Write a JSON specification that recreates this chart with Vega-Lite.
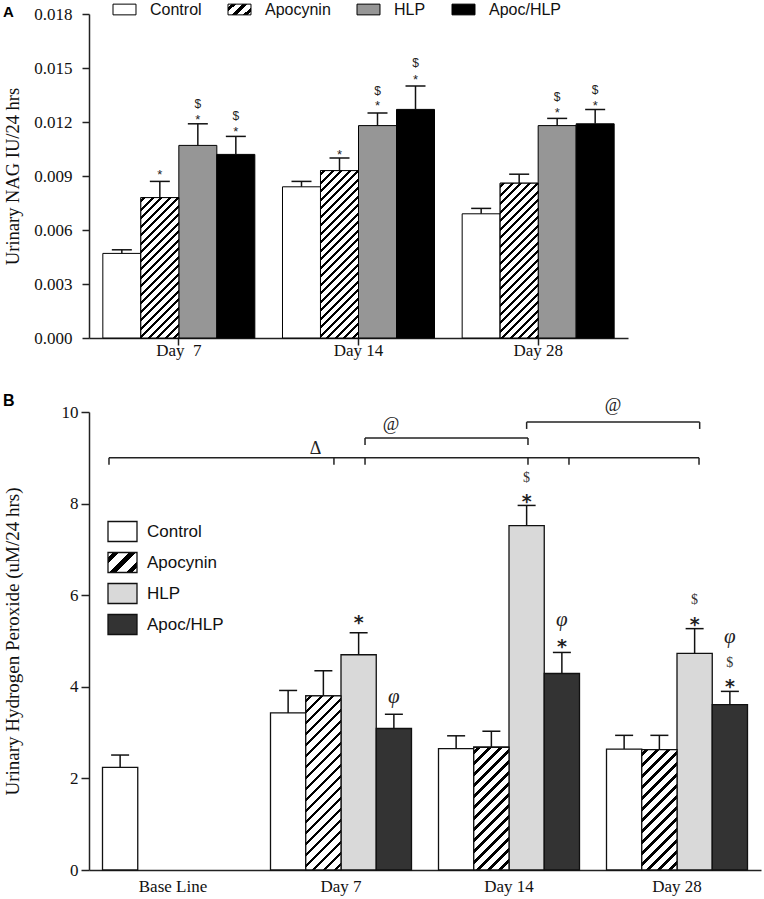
{
"$schema":"https://vega.github.io/schema/vega-lite/v6.json",
"background":"white",
"padding":{"left":3,"top":1,"right":2,"bottom":2},
"spacing":35,
"resolve":{"scale":{"fill":"independent","y":"independent","x":"independent","xOffset":"independent"},"legend":{"fill":"independent"}},
"config":{
 "view":{"stroke":null},
 "axis":{"domainColor":"#222","tickColor":"#222","labelColor":"#111","titleColor":"#111","labelFont":"Liberation Serif","titleFont":"Liberation Serif","titleFontWeight":"normal","domainWidth":1.5,"tickWidth":1.5,"grid":false,"labelFontSize":17},
 "legend":{"labelFont":"Liberation Sans","labelColor":"#111"}
},
"datasets":{
 "nag":[
  {"day":"Day 7","trt":"Control","value":0.0047,"upper":0.0049},
  {"day":"Day 7","trt":"Apocynin","value":0.0078,"upper":0.0087},
  {"day":"Day 7","trt":"HLP","value":0.0107,"upper":0.0119},
  {"day":"Day 7","trt":"Apoc/HLP","value":0.0102,"upper":0.0112},
  {"day":"Day 14","trt":"Control","value":0.0084,"upper":0.0087},
  {"day":"Day 14","trt":"Apocynin","value":0.0093,"upper":0.0100},
  {"day":"Day 14","trt":"HLP","value":0.0118,"upper":0.0125},
  {"day":"Day 14","trt":"Apoc/HLP","value":0.0127,"upper":0.0140},
  {"day":"Day 28","trt":"Control","value":0.0069,"upper":0.0072},
  {"day":"Day 28","trt":"Apocynin","value":0.0086,"upper":0.0091},
  {"day":"Day 28","trt":"HLP","value":0.0118,"upper":0.0122},
  {"day":"Day 28","trt":"Apoc/HLP","value":0.0119,"upper":0.0127}
 ],
 "nagAnn":[
  {"day":"Day 7","trt":"Apocynin","sym":"*","y":0.00926},
  {"day":"Day 7","trt":"HLP","sym":"*","y":0.01232},
  {"day":"Day 7","trt":"HLP","sym":"$","y":0.01298},
  {"day":"Day 7","trt":"Apoc/HLP","sym":"*","y":0.01165},
  {"day":"Day 7","trt":"Apoc/HLP","sym":"$","y":0.01232},
  {"day":"Day 14","trt":"Apocynin","sym":"*","y":0.01037},
  {"day":"Day 14","trt":"HLP","sym":"*","y":0.01309},
  {"day":"Day 14","trt":"HLP","sym":"$","y":0.01371},
  {"day":"Day 14","trt":"Apoc/HLP","sym":"*","y":0.01454},
  {"day":"Day 14","trt":"Apoc/HLP","sym":"$","y":0.01526},
  {"day":"Day 28","trt":"HLP","sym":"*","y":0.01271},
  {"day":"Day 28","trt":"HLP","sym":"$","y":0.01337},
  {"day":"Day 28","trt":"Apoc/HLP","sym":"*","y":0.01309},
  {"day":"Day 28","trt":"Apoc/HLP","sym":"$","y":0.01376}
 ],
 "h2o2":[
  {"day":"Base Line","trt":"Control","value":2.24,"upper":2.51},
  {"day":"Day 7","trt":"Control","value":3.43,"upper":3.92},
  {"day":"Day 7","trt":"Apocynin","value":3.80,"upper":4.35},
  {"day":"Day 7","trt":"HLP","value":4.70,"upper":5.18},
  {"day":"Day 7","trt":"Apoc/HLP","value":3.09,"upper":3.40},
  {"day":"Day 14","trt":"Control","value":2.65,"upper":2.93},
  {"day":"Day 14","trt":"Apocynin","value":2.68,"upper":3.03},
  {"day":"Day 14","trt":"HLP","value":7.52,"upper":7.96},
  {"day":"Day 14","trt":"Apoc/HLP","value":4.29,"upper":4.75},
  {"day":"Day 28","trt":"Control","value":2.64,"upper":2.94},
  {"day":"Day 28","trt":"Apocynin","value":2.63,"upper":2.94},
  {"day":"Day 28","trt":"HLP","value":4.73,"upper":5.27},
  {"day":"Day 28","trt":"Apoc/HLP","value":3.61,"upper":3.90}
 ],
 "h2o2Ann":[
  {"day":"Day 7","trt":"HLP","sym":"*","y":5.53},
  {"day":"Day 7","trt":"Apoc/HLP","sym":"φ","y":3.75},
  {"day":"Day 14","trt":"HLP","sym":"*","y":8.17},
  {"day":"Day 14","trt":"HLP","sym":"$","y":8.55},
  {"day":"Day 14","trt":"Apoc/HLP","sym":"*","y":5.01},
  {"day":"Day 14","trt":"Apoc/HLP","sym":"φ","y":5.43},
  {"day":"Day 28","trt":"HLP","sym":"*","y":5.49},
  {"day":"Day 28","trt":"HLP","sym":"$","y":5.89},
  {"day":"Day 28","trt":"Apoc/HLP","sym":"*","y":4.12},
  {"day":"Day 28","trt":"Apoc/HLP","sym":"$","y":4.53},
  {"day":"Day 28","trt":"Apoc/HLP","sym":"φ","y":5.06}
 ],
 "brackets":[
  {"x":0.119,"x2":3.631,"y":9.0,"y2":9.0},
  {"x":1.643,"x2":2.613,"y":9.43,"y2":9.43},
  {"x":2.605,"x2":3.635,"y":9.78,"y2":9.78},
  {"x":0.119,"x2":0.119,"y":9.0,"y2":8.85},
  {"x":1.458,"x2":1.458,"y":9.0,"y2":8.85},
  {"x":1.643,"x2":1.643,"y":9.0,"y2":8.85},
  {"x":2.613,"x2":2.613,"y":9.0,"y2":8.85},
  {"x":2.857,"x2":2.857,"y":9.0,"y2":8.85},
  {"x":3.631,"x2":3.631,"y":9.0,"y2":8.85},
  {"x":1.643,"x2":1.643,"y":9.43,"y2":9.28},
  {"x":2.613,"x2":2.613,"y":9.43,"y2":9.28},
  {"x":2.605,"x2":2.605,"y":9.78,"y2":9.63},
  {"x":3.635,"x2":3.635,"y":9.78,"y2":9.63}
 ],
 "bracketLabels":[
  {"x":1.349,"y":9.2,"label":"Δ"},
  {"x":1.798,"y":9.72,"label":"@"},
  {"x":3.119,"y":10.13,"label":"@"}
 ]
},
"vconcat":[
 {
  "title":{"text":"A","anchor":"start","frame":"bounds","offset":-19,"font":"Liberation Sans","fontSize":15,"fontWeight":"bold","color":"#000"},
  "width":539,"height":324,
  "layer":[
   {"data":{"name":"nag"},
    "mark":{"type":"bar","stroke":"#000","strokeWidth":1},
    "encoding":{
     "x":{"field":"day","type":"nominal","scale":{"domain":["Day 7","Day 14","Day 28"],"paddingInner":0,"paddingOuter":0},"axis":{"title":null,"labelAngle":0,"tickSize":7,"labelPadding":-3,"labelExpr":"datum.label == 'Day 7' ? 'Day\u00a0\u00a07' : datum.label"}},
     "xOffset":{"field":"trt","type":"nominal","scale":{"domain":["Control","Apocynin","HLP","Apoc/HLP"],"paddingInner":0,"paddingOuter":0.364}},
     "y":{"field":"value","type":"quantitative","scale":{"domain":[0,0.018],"nice":false},"axis":{"title":"Urinary NAG IU/24 hrs","values":[0,0.003,0.006,0.009,0.012,0.015,0.018],"format":".3f","tickSize":7,"labelPadding":10,"titleFontSize":18.5,"titleX":-77,"titleY":162,"titleBaseline":"middle","titleAlign":"center"}},
     "fill":{"field":"trt","type":"nominal","scale":{"domain":["Control","Apocynin","HLP","Apoc/HLP"],"range":["#ffffff",{"expr":"{gradient:'linear',x1:0,y1:0,x2:1.2031,y2:0.5754,stops:[{offset:0,color:'#fff'},{offset:0.1,color:'#fff'},{offset:0.1,color:'#000'},{offset:0.2333,color:'#000'},{offset:0.2333,color:'#fff'},{offset:0.4333,color:'#fff'},{offset:0.4333,color:'#000'},{offset:0.5667,color:'#000'},{offset:0.5667,color:'#fff'},{offset:0.7667,color:'#fff'},{offset:0.7667,color:'#000'},{offset:0.9,color:'#000'},{offset:0.9,color:'#fff'},{offset:1,color:'#fff'}]}"},"#969696","#000000"]},
      "legend":{"orient":"none","legendX":27,"legendY":-13,"direction":"horizontal","columns":4,"title":null,"symbolType":"M-1.5,-0.7H1.5V0.7H-1.5Z","symbolSize":235,"symbolStrokeColor":"#000","symbolStrokeWidth":1,"symbolOpacity":1,"labelFontSize":16,"labelOffset":17,"columnPadding":24,"padding":0,"gridAlign":"none"}}
    }},
   {"data":{"name":"nag"},"transform":[{"filter":"datum.day == 'Day 7' && datum.trt == 'Apocynin'"}],
    "mark":{"type":"bar","stroke":"#000","strokeWidth":1,"fill":{"gradient":"linear","x1":0,"y1":0,"x2":0.3206,"y2":1.1846,"stops":[{"offset":0,"color":"#fff"},
{"offset":0.0143,"color":"#fff"},{"offset":0.0143,"color":"#000"},{"offset":0.031,"color":"#000"},{"offset":0.031,"color":"#fff"},
{"offset":0.0619,"color":"#fff"},{"offset":0.0619,"color":"#000"},{"offset":0.0786,"color":"#000"},{"offset":0.0786,"color":"#fff"},
{"offset":0.1095,"color":"#fff"},{"offset":0.1095,"color":"#000"},{"offset":0.1262,"color":"#000"},{"offset":0.1262,"color":"#fff"},
{"offset":0.1571,"color":"#fff"},{"offset":0.1571,"color":"#000"},{"offset":0.1738,"color":"#000"},{"offset":0.1738,"color":"#fff"},
{"offset":0.2048,"color":"#fff"},{"offset":0.2048,"color":"#000"},{"offset":0.2214,"color":"#000"},{"offset":0.2214,"color":"#fff"},
{"offset":0.2524,"color":"#fff"},{"offset":0.2524,"color":"#000"},{"offset":0.269,"color":"#000"},{"offset":0.269,"color":"#fff"},
{"offset":0.3,"color":"#fff"},{"offset":0.3,"color":"#000"},{"offset":0.3167,"color":"#000"},{"offset":0.3167,"color":"#fff"},
{"offset":0.3476,"color":"#fff"},{"offset":0.3476,"color":"#000"},{"offset":0.3643,"color":"#000"},{"offset":0.3643,"color":"#fff"},
{"offset":0.3952,"color":"#fff"},{"offset":0.3952,"color":"#000"},{"offset":0.4119,"color":"#000"},{"offset":0.4119,"color":"#fff"},
{"offset":0.4429,"color":"#fff"},{"offset":0.4429,"color":"#000"},{"offset":0.4595,"color":"#000"},{"offset":0.4595,"color":"#fff"},
{"offset":0.4905,"color":"#fff"},{"offset":0.4905,"color":"#000"},{"offset":0.5071,"color":"#000"},{"offset":0.5071,"color":"#fff"},
{"offset":0.5381,"color":"#fff"},{"offset":0.5381,"color":"#000"},{"offset":0.5548,"color":"#000"},{"offset":0.5548,"color":"#fff"},
{"offset":0.5857,"color":"#fff"},{"offset":0.5857,"color":"#000"},{"offset":0.6024,"color":"#000"},{"offset":0.6024,"color":"#fff"},
{"offset":0.6333,"color":"#fff"},{"offset":0.6333,"color":"#000"},{"offset":0.65,"color":"#000"},{"offset":0.65,"color":"#fff"},
{"offset":0.681,"color":"#fff"},{"offset":0.681,"color":"#000"},{"offset":0.6976,"color":"#000"},{"offset":0.6976,"color":"#fff"},
{"offset":0.7286,"color":"#fff"},{"offset":0.7286,"color":"#000"},{"offset":0.7452,"color":"#000"},{"offset":0.7452,"color":"#fff"},
{"offset":0.7762,"color":"#fff"},{"offset":0.7762,"color":"#000"},{"offset":0.7929,"color":"#000"},{"offset":0.7929,"color":"#fff"},
{"offset":0.8238,"color":"#fff"},{"offset":0.8238,"color":"#000"},{"offset":0.8405,"color":"#000"},{"offset":0.8405,"color":"#fff"},
{"offset":0.8714,"color":"#fff"},{"offset":0.8714,"color":"#000"},{"offset":0.8881,"color":"#000"},{"offset":0.8881,"color":"#fff"},
{"offset":0.919,"color":"#fff"},{"offset":0.919,"color":"#000"},{"offset":0.9357,"color":"#000"},{"offset":0.9357,"color":"#fff"},
{"offset":0.9667,"color":"#fff"},{"offset":0.9667,"color":"#000"},{"offset":0.9833,"color":"#000"},{"offset":0.9833,"color":"#fff"},
{"offset":1,"color":"#fff"}]}},
    "encoding":{"x":{"field":"day","type":"nominal"},"xOffset":{"field":"trt","type":"nominal"},"y":{"field":"value","type":"quantitative"}}},
   {"data":{"name":"nag"},"transform":[{"filter":"datum.day == 'Day 14' && datum.trt == 'Apocynin'"}],
    "mark":{"type":"bar","stroke":"#000","strokeWidth":1,"fill":{"gradient":"linear","x1":0,"y1":0,"x2":0.274,"y2":1.2072,"stops":[{"offset":0,"color":"#fff"},
{"offset":0.012,"color":"#fff"},{"offset":0.012,"color":"#000"},{"offset":0.026,"color":"#000"},{"offset":0.026,"color":"#fff"},
{"offset":0.052,"color":"#fff"},{"offset":0.052,"color":"#000"},{"offset":0.066,"color":"#000"},{"offset":0.066,"color":"#fff"},
{"offset":0.092,"color":"#fff"},{"offset":0.092,"color":"#000"},{"offset":0.106,"color":"#000"},{"offset":0.106,"color":"#fff"},
{"offset":0.132,"color":"#fff"},{"offset":0.132,"color":"#000"},{"offset":0.146,"color":"#000"},{"offset":0.146,"color":"#fff"},
{"offset":0.172,"color":"#fff"},{"offset":0.172,"color":"#000"},{"offset":0.186,"color":"#000"},{"offset":0.186,"color":"#fff"},
{"offset":0.212,"color":"#fff"},{"offset":0.212,"color":"#000"},{"offset":0.226,"color":"#000"},{"offset":0.226,"color":"#fff"},
{"offset":0.252,"color":"#fff"},{"offset":0.252,"color":"#000"},{"offset":0.266,"color":"#000"},{"offset":0.266,"color":"#fff"},
{"offset":0.292,"color":"#fff"},{"offset":0.292,"color":"#000"},{"offset":0.306,"color":"#000"},{"offset":0.306,"color":"#fff"},
{"offset":0.332,"color":"#fff"},{"offset":0.332,"color":"#000"},{"offset":0.346,"color":"#000"},{"offset":0.346,"color":"#fff"},
{"offset":0.372,"color":"#fff"},{"offset":0.372,"color":"#000"},{"offset":0.386,"color":"#000"},{"offset":0.386,"color":"#fff"},
{"offset":0.412,"color":"#fff"},{"offset":0.412,"color":"#000"},{"offset":0.426,"color":"#000"},{"offset":0.426,"color":"#fff"},
{"offset":0.452,"color":"#fff"},{"offset":0.452,"color":"#000"},{"offset":0.466,"color":"#000"},{"offset":0.466,"color":"#fff"},
{"offset":0.492,"color":"#fff"},{"offset":0.492,"color":"#000"},{"offset":0.506,"color":"#000"},{"offset":0.506,"color":"#fff"},
{"offset":0.532,"color":"#fff"},{"offset":0.532,"color":"#000"},{"offset":0.546,"color":"#000"},{"offset":0.546,"color":"#fff"},
{"offset":0.572,"color":"#fff"},{"offset":0.572,"color":"#000"},{"offset":0.586,"color":"#000"},{"offset":0.586,"color":"#fff"},
{"offset":0.612,"color":"#fff"},{"offset":0.612,"color":"#000"},{"offset":0.626,"color":"#000"},{"offset":0.626,"color":"#fff"},
{"offset":0.652,"color":"#fff"},{"offset":0.652,"color":"#000"},{"offset":0.666,"color":"#000"},{"offset":0.666,"color":"#fff"},
{"offset":0.692,"color":"#fff"},{"offset":0.692,"color":"#000"},{"offset":0.706,"color":"#000"},{"offset":0.706,"color":"#fff"},
{"offset":0.732,"color":"#fff"},{"offset":0.732,"color":"#000"},{"offset":0.746,"color":"#000"},{"offset":0.746,"color":"#fff"},
{"offset":0.772,"color":"#fff"},{"offset":0.772,"color":"#000"},{"offset":0.786,"color":"#000"},{"offset":0.786,"color":"#fff"},
{"offset":0.812,"color":"#fff"},{"offset":0.812,"color":"#000"},{"offset":0.826,"color":"#000"},{"offset":0.826,"color":"#fff"},
{"offset":0.852,"color":"#fff"},{"offset":0.852,"color":"#000"},{"offset":0.866,"color":"#000"},{"offset":0.866,"color":"#fff"},
{"offset":0.892,"color":"#fff"},{"offset":0.892,"color":"#000"},{"offset":0.906,"color":"#000"},{"offset":0.906,"color":"#fff"},
{"offset":0.932,"color":"#fff"},{"offset":0.932,"color":"#000"},{"offset":0.946,"color":"#000"},{"offset":0.946,"color":"#fff"},
{"offset":0.972,"color":"#fff"},{"offset":0.972,"color":"#000"},{"offset":0.986,"color":"#000"},{"offset":0.986,"color":"#fff"},
{"offset":1,"color":"#fff"}]}},
    "encoding":{"x":{"field":"day","type":"nominal"},"xOffset":{"field":"trt","type":"nominal"},"y":{"field":"value","type":"quantitative"}}},
   {"data":{"name":"nag"},"transform":[{"filter":"datum.day == 'Day 28' && datum.trt == 'Apocynin'"}],
    "mark":{"type":"bar","stroke":"#000","strokeWidth":1,"fill":{"gradient":"linear","x1":0,"y1":0,"x2":0.2924,"y2":1.1911,"stops":[{"offset":0,"color":"#fff"},
{"offset":0.013,"color":"#fff"},{"offset":0.013,"color":"#000"},{"offset":0.0283,"color":"#000"},{"offset":0.0283,"color":"#fff"},
{"offset":0.0565,"color":"#fff"},{"offset":0.0565,"color":"#000"},{"offset":0.0717,"color":"#000"},{"offset":0.0717,"color":"#fff"},
{"offset":0.1,"color":"#fff"},{"offset":0.1,"color":"#000"},{"offset":0.1152,"color":"#000"},{"offset":0.1152,"color":"#fff"},
{"offset":0.1435,"color":"#fff"},{"offset":0.1435,"color":"#000"},{"offset":0.1587,"color":"#000"},{"offset":0.1587,"color":"#fff"},
{"offset":0.187,"color":"#fff"},{"offset":0.187,"color":"#000"},{"offset":0.2022,"color":"#000"},{"offset":0.2022,"color":"#fff"},
{"offset":0.2304,"color":"#fff"},{"offset":0.2304,"color":"#000"},{"offset":0.2457,"color":"#000"},{"offset":0.2457,"color":"#fff"},
{"offset":0.2739,"color":"#fff"},{"offset":0.2739,"color":"#000"},{"offset":0.2891,"color":"#000"},{"offset":0.2891,"color":"#fff"},
{"offset":0.3174,"color":"#fff"},{"offset":0.3174,"color":"#000"},{"offset":0.3326,"color":"#000"},{"offset":0.3326,"color":"#fff"},
{"offset":0.3609,"color":"#fff"},{"offset":0.3609,"color":"#000"},{"offset":0.3761,"color":"#000"},{"offset":0.3761,"color":"#fff"},
{"offset":0.4043,"color":"#fff"},{"offset":0.4043,"color":"#000"},{"offset":0.4196,"color":"#000"},{"offset":0.4196,"color":"#fff"},
{"offset":0.4478,"color":"#fff"},{"offset":0.4478,"color":"#000"},{"offset":0.463,"color":"#000"},{"offset":0.463,"color":"#fff"},
{"offset":0.4913,"color":"#fff"},{"offset":0.4913,"color":"#000"},{"offset":0.5065,"color":"#000"},{"offset":0.5065,"color":"#fff"},
{"offset":0.5348,"color":"#fff"},{"offset":0.5348,"color":"#000"},{"offset":0.55,"color":"#000"},{"offset":0.55,"color":"#fff"},
{"offset":0.5783,"color":"#fff"},{"offset":0.5783,"color":"#000"},{"offset":0.5935,"color":"#000"},{"offset":0.5935,"color":"#fff"},
{"offset":0.6217,"color":"#fff"},{"offset":0.6217,"color":"#000"},{"offset":0.637,"color":"#000"},{"offset":0.637,"color":"#fff"},
{"offset":0.6652,"color":"#fff"},{"offset":0.6652,"color":"#000"},{"offset":0.6804,"color":"#000"},{"offset":0.6804,"color":"#fff"},
{"offset":0.7087,"color":"#fff"},{"offset":0.7087,"color":"#000"},{"offset":0.7239,"color":"#000"},{"offset":0.7239,"color":"#fff"},
{"offset":0.7522,"color":"#fff"},{"offset":0.7522,"color":"#000"},{"offset":0.7674,"color":"#000"},{"offset":0.7674,"color":"#fff"},
{"offset":0.7957,"color":"#fff"},{"offset":0.7957,"color":"#000"},{"offset":0.8109,"color":"#000"},{"offset":0.8109,"color":"#fff"},
{"offset":0.8391,"color":"#fff"},{"offset":0.8391,"color":"#000"},{"offset":0.8543,"color":"#000"},{"offset":0.8543,"color":"#fff"},
{"offset":0.8826,"color":"#fff"},{"offset":0.8826,"color":"#000"},{"offset":0.8978,"color":"#000"},{"offset":0.8978,"color":"#fff"},
{"offset":0.9261,"color":"#fff"},{"offset":0.9261,"color":"#000"},{"offset":0.9413,"color":"#000"},{"offset":0.9413,"color":"#fff"},
{"offset":0.9696,"color":"#fff"},{"offset":0.9696,"color":"#000"},{"offset":0.9848,"color":"#000"},{"offset":0.9848,"color":"#fff"},
{"offset":1,"color":"#fff"}]}},
    "encoding":{"x":{"field":"day","type":"nominal"},"xOffset":{"field":"trt","type":"nominal"},"y":{"field":"value","type":"quantitative"}}},
   {"data":{"name":"nag"},"mark":{"type":"rule","strokeWidth":1.5,"color":"#111"},
    "encoding":{"x":{"field":"day","type":"nominal"},"xOffset":{"field":"trt","type":"nominal"},"y":{"field":"value","type":"quantitative"},"y2":{"field":"upper"}}},
   {"data":{"name":"nag"},"mark":{"type":"tick","thickness":1.5,"size":20,"color":"#111","opacity":1},
    "encoding":{"x":{"field":"day","type":"nominal"},"xOffset":{"field":"trt","type":"nominal"},"y":{"field":"upper","type":"quantitative"}}},
   {"data":{"name":"nagAnn"},"transform":[{"filter":"datum.sym == '*'"}],"mark":{"type":"text","font":"Liberation Sans","fontSize":13,"dy":4,"color":"#222"},
    "encoding":{"x":{"field":"day","type":"nominal"},"xOffset":{"field":"trt","type":"nominal"},"y":{"field":"y","type":"quantitative"},"text":{"field":"sym"}}},
   {"data":{"name":"nagAnn"},"transform":[{"filter":"datum.sym == '$'"}],"mark":{"type":"text","font":"Liberation Sans","fontSize":12,"color":"#222"},
    "encoding":{"x":{"field":"day","type":"nominal"},"xOffset":{"field":"trt","type":"nominal"},"y":{"field":"y","type":"quantitative"},"text":{"field":"sym"}}}
  ]
 },
 {
  "title":{"text":"B","anchor":"start","frame":"bounds","offset":-12,"font":"Liberation Sans","fontSize":16,"fontWeight":"bold","color":"#000"},
  "width":672,"height":458,
  "resolve":{"scale":{"x":"independent"}},
  "layer":[
   {"layer":[
    {"data":{"name":"h2o2"},
     "mark":{"type":"bar","stroke":"#111","strokeWidth":1.3},
     "encoding":{
      "x":{"field":"day","type":"nominal","scale":{"domain":["Base Line","Day 7","Day 14","Day 28"],"paddingInner":0,"paddingOuter":0},"axis":{"title":null,"labelAngle":0,"ticks":false,"labelPadding":8}},
      "xOffset":{"field":"trt","type":"nominal","scale":{"domain":["Control","Apocynin","HLP","Apoc/HLP"],"paddingInner":0,"paddingOuter":0.383}},
      "y":{"field":"value","type":"quantitative","scale":{"domain":[0,10],"nice":false},"axis":{"title":"Urinary Hydrogen Peroxide (uM/24 hrs)","values":[0,2,4,6,8,10],"tickSize":8,"labelPadding":3,"titleFontSize":19,"titleX":-77,"titleY":229,"titleBaseline":"middle","titleAlign":"center"}},
      "fill":{"field":"trt","type":"nominal","scale":{"domain":["Control","Apocynin","HLP","Apoc/HLP"],"range":["#ffffff",{"expr":"{gradient:'linear',x1:0,y1:0,x2:1.145,y2:0.7897,stops:[{offset:0,color:'#fff'},{offset:0.1,color:'#fff'},{offset:0.1,color:'#000'},{offset:0.2333,color:'#000'},{offset:0.2333,color:'#fff'},{offset:0.4333,color:'#fff'},{offset:0.4333,color:'#000'},{offset:0.5667,color:'#000'},{offset:0.5667,color:'#fff'},{offset:0.7667,color:'#fff'},{offset:0.7667,color:'#000'},{offset:0.9,color:'#000'},{offset:0.9,color:'#fff'},{offset:1,color:'#fff'}]}"},"#d9d9d9","#333333"]},
       "legend":{"orient":"none","legendX":18,"legendY":104,"direction":"vertical","columns":1,"title":null,"symbolType":"M-1,-0.69H1V0.69H-1Z","symbolSize":841,"symbolStrokeColor":"#111","symbolStrokeWidth":1.3,"symbolOpacity":1,"labelFontSize":17,"labelOffset":9,"rowPadding":2,"padding":0}}
     }},
    {"data":{"name":"h2o2"},"transform":[{"filter":"datum.day == 'Day 7' && datum.trt == 'Apocynin'"}],
     "mark":{"type":"bar","stroke":"#111","strokeWidth":1.3,"fill":{"gradient":"linear","x1":0,"y1":0,"x2":0.2459,"y2":1.2143,"stops":[{"offset":0,"color":"#fff"},
{"offset":0.015,"color":"#fff"},{"offset":0.015,"color":"#000"},{"offset":0.0325,"color":"#000"},{"offset":0.0325,"color":"#fff"},
{"offset":0.065,"color":"#fff"},{"offset":0.065,"color":"#000"},{"offset":0.0825,"color":"#000"},{"offset":0.0825,"color":"#fff"},
{"offset":0.115,"color":"#fff"},{"offset":0.115,"color":"#000"},{"offset":0.1325,"color":"#000"},{"offset":0.1325,"color":"#fff"},
{"offset":0.165,"color":"#fff"},{"offset":0.165,"color":"#000"},{"offset":0.1825,"color":"#000"},{"offset":0.1825,"color":"#fff"},
{"offset":0.215,"color":"#fff"},{"offset":0.215,"color":"#000"},{"offset":0.2325,"color":"#000"},{"offset":0.2325,"color":"#fff"},
{"offset":0.265,"color":"#fff"},{"offset":0.265,"color":"#000"},{"offset":0.2825,"color":"#000"},{"offset":0.2825,"color":"#fff"},
{"offset":0.315,"color":"#fff"},{"offset":0.315,"color":"#000"},{"offset":0.3325,"color":"#000"},{"offset":0.3325,"color":"#fff"},
{"offset":0.365,"color":"#fff"},{"offset":0.365,"color":"#000"},{"offset":0.3825,"color":"#000"},{"offset":0.3825,"color":"#fff"},
{"offset":0.415,"color":"#fff"},{"offset":0.415,"color":"#000"},{"offset":0.4325,"color":"#000"},{"offset":0.4325,"color":"#fff"},
{"offset":0.465,"color":"#fff"},{"offset":0.465,"color":"#000"},{"offset":0.4825,"color":"#000"},{"offset":0.4825,"color":"#fff"},
{"offset":0.515,"color":"#fff"},{"offset":0.515,"color":"#000"},{"offset":0.5325,"color":"#000"},{"offset":0.5325,"color":"#fff"},
{"offset":0.565,"color":"#fff"},{"offset":0.565,"color":"#000"},{"offset":0.5825,"color":"#000"},{"offset":0.5825,"color":"#fff"},
{"offset":0.615,"color":"#fff"},{"offset":0.615,"color":"#000"},{"offset":0.6325,"color":"#000"},{"offset":0.6325,"color":"#fff"},
{"offset":0.665,"color":"#fff"},{"offset":0.665,"color":"#000"},{"offset":0.6825,"color":"#000"},{"offset":0.6825,"color":"#fff"},
{"offset":0.715,"color":"#fff"},{"offset":0.715,"color":"#000"},{"offset":0.7325,"color":"#000"},{"offset":0.7325,"color":"#fff"},
{"offset":0.765,"color":"#fff"},{"offset":0.765,"color":"#000"},{"offset":0.7825,"color":"#000"},{"offset":0.7825,"color":"#fff"},
{"offset":0.815,"color":"#fff"},{"offset":0.815,"color":"#000"},{"offset":0.8325,"color":"#000"},{"offset":0.8325,"color":"#fff"},
{"offset":0.865,"color":"#fff"},{"offset":0.865,"color":"#000"},{"offset":0.8825,"color":"#000"},{"offset":0.8825,"color":"#fff"},
{"offset":0.915,"color":"#fff"},{"offset":0.915,"color":"#000"},{"offset":0.9325,"color":"#000"},{"offset":0.9325,"color":"#fff"},
{"offset":0.965,"color":"#fff"},{"offset":0.965,"color":"#000"},{"offset":0.9825,"color":"#000"},{"offset":0.9825,"color":"#fff"},
{"offset":1,"color":"#fff"}]}},
     "encoding":{"x":{"field":"day","type":"nominal"},"xOffset":{"field":"trt","type":"nominal"},"y":{"field":"value","type":"quantitative"}}},
    {"data":{"name":"h2o2"},"transform":[{"filter":"datum.day == 'Day 14' && datum.trt == 'Apocynin'"}],
     "mark":{"type":"bar","stroke":"#111","strokeWidth":1.3,"fill":{"gradient":"linear","x1":0,"y1":0,"x2":0.3567,"y2":1.2419,"stops":[{"offset":0,"color":"#fff"},
{"offset":0.02,"color":"#fff"},{"offset":0.02,"color":"#000"},{"offset":0.0433,"color":"#000"},{"offset":0.0433,"color":"#fff"},
{"offset":0.0867,"color":"#fff"},{"offset":0.0867,"color":"#000"},{"offset":0.11,"color":"#000"},{"offset":0.11,"color":"#fff"},
{"offset":0.1533,"color":"#fff"},{"offset":0.1533,"color":"#000"},{"offset":0.1767,"color":"#000"},{"offset":0.1767,"color":"#fff"},
{"offset":0.22,"color":"#fff"},{"offset":0.22,"color":"#000"},{"offset":0.2433,"color":"#000"},{"offset":0.2433,"color":"#fff"},
{"offset":0.2867,"color":"#fff"},{"offset":0.2867,"color":"#000"},{"offset":0.31,"color":"#000"},{"offset":0.31,"color":"#fff"},
{"offset":0.3533,"color":"#fff"},{"offset":0.3533,"color":"#000"},{"offset":0.3767,"color":"#000"},{"offset":0.3767,"color":"#fff"},
{"offset":0.42,"color":"#fff"},{"offset":0.42,"color":"#000"},{"offset":0.4433,"color":"#000"},{"offset":0.4433,"color":"#fff"},
{"offset":0.4867,"color":"#fff"},{"offset":0.4867,"color":"#000"},{"offset":0.51,"color":"#000"},{"offset":0.51,"color":"#fff"},
{"offset":0.5533,"color":"#fff"},{"offset":0.5533,"color":"#000"},{"offset":0.5767,"color":"#000"},{"offset":0.5767,"color":"#fff"},
{"offset":0.62,"color":"#fff"},{"offset":0.62,"color":"#000"},{"offset":0.6433,"color":"#000"},{"offset":0.6433,"color":"#fff"},
{"offset":0.6867,"color":"#fff"},{"offset":0.6867,"color":"#000"},{"offset":0.71,"color":"#000"},{"offset":0.71,"color":"#fff"},
{"offset":0.7533,"color":"#fff"},{"offset":0.7533,"color":"#000"},{"offset":0.7767,"color":"#000"},{"offset":0.7767,"color":"#fff"},
{"offset":0.82,"color":"#fff"},{"offset":0.82,"color":"#000"},{"offset":0.8433,"color":"#000"},{"offset":0.8433,"color":"#fff"},
{"offset":0.8867,"color":"#fff"},{"offset":0.8867,"color":"#000"},{"offset":0.91,"color":"#000"},{"offset":0.91,"color":"#fff"},
{"offset":0.9533,"color":"#fff"},{"offset":0.9533,"color":"#000"},{"offset":0.9767,"color":"#000"},{"offset":0.9767,"color":"#fff"},
{"offset":1,"color":"#fff"}]}},
     "encoding":{"x":{"field":"day","type":"nominal"},"xOffset":{"field":"trt","type":"nominal"},"y":{"field":"value","type":"quantitative"}}},
    {"data":{"name":"h2o2"},"transform":[{"filter":"datum.day == 'Day 28' && datum.trt == 'Apocynin'"}],
     "mark":{"type":"bar","stroke":"#111","strokeWidth":1.3,"fill":{"gradient":"linear","x1":0,"y1":0,"x2":0.3693,"y2":1.2618,"stops":[{"offset":0,"color":"#fff"},
{"offset":0.02,"color":"#fff"},{"offset":0.02,"color":"#000"},{"offset":0.0433,"color":"#000"},{"offset":0.0433,"color":"#fff"},
{"offset":0.0867,"color":"#fff"},{"offset":0.0867,"color":"#000"},{"offset":0.11,"color":"#000"},{"offset":0.11,"color":"#fff"},
{"offset":0.1533,"color":"#fff"},{"offset":0.1533,"color":"#000"},{"offset":0.1767,"color":"#000"},{"offset":0.1767,"color":"#fff"},
{"offset":0.22,"color":"#fff"},{"offset":0.22,"color":"#000"},{"offset":0.2433,"color":"#000"},{"offset":0.2433,"color":"#fff"},
{"offset":0.2867,"color":"#fff"},{"offset":0.2867,"color":"#000"},{"offset":0.31,"color":"#000"},{"offset":0.31,"color":"#fff"},
{"offset":0.3533,"color":"#fff"},{"offset":0.3533,"color":"#000"},{"offset":0.3767,"color":"#000"},{"offset":0.3767,"color":"#fff"},
{"offset":0.42,"color":"#fff"},{"offset":0.42,"color":"#000"},{"offset":0.4433,"color":"#000"},{"offset":0.4433,"color":"#fff"},
{"offset":0.4867,"color":"#fff"},{"offset":0.4867,"color":"#000"},{"offset":0.51,"color":"#000"},{"offset":0.51,"color":"#fff"},
{"offset":0.5533,"color":"#fff"},{"offset":0.5533,"color":"#000"},{"offset":0.5767,"color":"#000"},{"offset":0.5767,"color":"#fff"},
{"offset":0.62,"color":"#fff"},{"offset":0.62,"color":"#000"},{"offset":0.6433,"color":"#000"},{"offset":0.6433,"color":"#fff"},
{"offset":0.6867,"color":"#fff"},{"offset":0.6867,"color":"#000"},{"offset":0.71,"color":"#000"},{"offset":0.71,"color":"#fff"},
{"offset":0.7533,"color":"#fff"},{"offset":0.7533,"color":"#000"},{"offset":0.7767,"color":"#000"},{"offset":0.7767,"color":"#fff"},
{"offset":0.82,"color":"#fff"},{"offset":0.82,"color":"#000"},{"offset":0.8433,"color":"#000"},{"offset":0.8433,"color":"#fff"},
{"offset":0.8867,"color":"#fff"},{"offset":0.8867,"color":"#000"},{"offset":0.91,"color":"#000"},{"offset":0.91,"color":"#fff"},
{"offset":0.9533,"color":"#fff"},{"offset":0.9533,"color":"#000"},{"offset":0.9767,"color":"#000"},{"offset":0.9767,"color":"#fff"},
{"offset":1,"color":"#fff"}]}},
     "encoding":{"x":{"field":"day","type":"nominal"},"xOffset":{"field":"trt","type":"nominal"},"y":{"field":"value","type":"quantitative"}}},
    {"data":{"name":"h2o2"},"mark":{"type":"rule","strokeWidth":1.5,"color":"#111"},
     "encoding":{"x":{"field":"day","type":"nominal"},"xOffset":{"field":"trt","type":"nominal"},"y":{"field":"value","type":"quantitative"},"y2":{"field":"upper"}}},
    {"data":{"name":"h2o2"},"mark":{"type":"tick","thickness":1.5,"size":18,"color":"#111","opacity":1},
     "encoding":{"x":{"field":"day","type":"nominal"},"xOffset":{"field":"trt","type":"nominal"},"y":{"field":"upper","type":"quantitative"}}},
    {"data":{"name":"h2o2Ann"},"transform":[{"filter":"datum.sym == '*'"}],"mark":{"type":"text","font":"DejaVu Sans","fontWeight":"bold","fontSize":19,"dy":6,"color":"#222"},
     "encoding":{"x":{"field":"day","type":"nominal"},"xOffset":{"field":"trt","type":"nominal"},"y":{"field":"y","type":"quantitative"},"text":{"field":"sym"}}},
    {"data":{"name":"h2o2Ann"},"transform":[{"filter":"datum.sym == '$'"}],"mark":{"type":"text","font":"Liberation Serif","fontSize":14,"color":"#333"},
     "encoding":{"x":{"field":"day","type":"nominal"},"xOffset":{"field":"trt","type":"nominal"},"y":{"field":"y","type":"quantitative"},"text":{"field":"sym"}}},
    {"data":{"name":"h2o2Ann"},"transform":[{"filter":"datum.sym == 'φ'"}],"mark":{"type":"text","font":"Liberation Serif","fontStyle":"italic","fontSize":21,"dy":-1,"color":"#222"},
     "encoding":{"x":{"field":"day","type":"nominal"},"xOffset":{"field":"trt","type":"nominal"},"y":{"field":"y","type":"quantitative"},"text":{"field":"sym"}}}
   ]},
   {"layer":[
    {"data":{"name":"brackets"},"mark":{"type":"rule","strokeWidth":1.5,"color":"#222"},
     "encoding":{"x":{"field":"x","type":"quantitative","scale":{"domain":[0,4],"nice":false,"zero":false},"axis":null},"x2":{"field":"x2"},"y":{"field":"y","type":"quantitative"},"y2":{"field":"y2"}}},
    {"data":{"name":"bracketLabels"},"mark":{"type":"text","font":"Liberation Serif","fontSize":18,"color":"#222"},
     "encoding":{"x":{"field":"x","type":"quantitative","scale":{"domain":[0,4],"nice":false,"zero":false},"axis":null},"y":{"field":"y","type":"quantitative"},"text":{"field":"label"}}}
   ]}
  ]
 }
]
}
